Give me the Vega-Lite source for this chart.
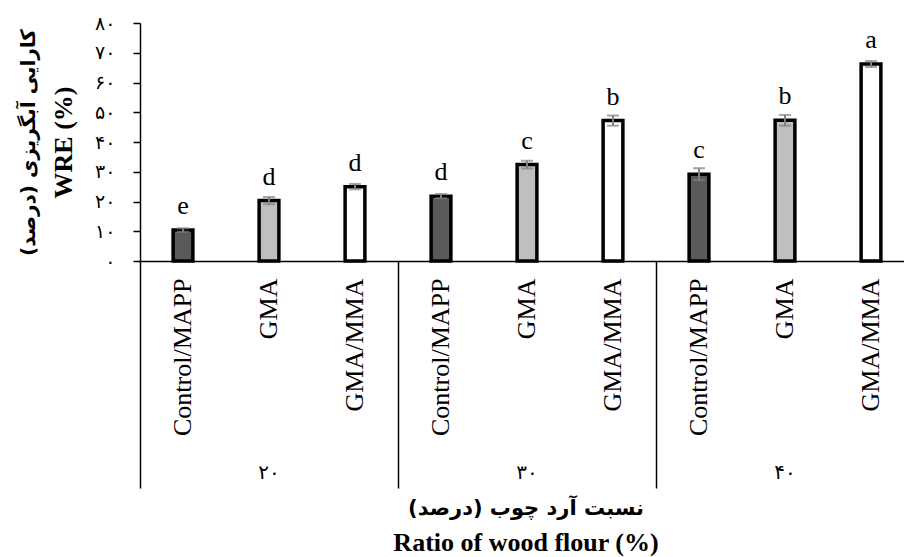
{
  "$schema": "https://vega.github.io/schema/vega-lite/v6.json",
  "width": 764,
  "height": 238,
  "autosize": {"type": "none"},
  "padding": {"left": 140, "top": 23, "right": 0, "bottom": 296},
  "background": "white",
  "config": {"view": {"stroke": null}},
  "title": {
    "text": "نسبت آرد چوب (درصد)",
    "subtitle": "Ratio of wood flour (%)",
    "orient": "bottom",
    "anchor": "middle",
    "frame": "group",
    "dx": 4,
    "offset": 9,
    "font": "DejaVu Sans",
    "fontWeight": "bold",
    "fontSize": 21,
    "color": "black",
    "subtitleFont": "Liberation Serif",
    "subtitleFontWeight": "bold",
    "subtitleFontSize": 26,
    "subtitleColor": "black",
    "subtitlePadding": 11
  },
  "data": {
    "values": [
      {"cat": "20|Control/MAPP", "group": "20", "treatment": "Control/MAPP", "value": 10.4, "err": 0.6, "letter": "e"},
      {"cat": "20|GMA", "group": "20", "treatment": "GMA", "value": 20.3, "err": 1.2, "letter": "d"},
      {"cat": "20|GMA/MMA", "group": "20", "treatment": "GMA/MMA", "value": 25.0, "err": 0.9, "letter": "d"},
      {"cat": "30|Control/MAPP", "group": "30", "treatment": "Control/MAPP", "value": 21.8, "err": 0.7, "letter": "d"},
      {"cat": "30|GMA", "group": "30", "treatment": "GMA", "value": 32.4, "err": 1.3, "letter": "c"},
      {"cat": "30|GMA/MMA", "group": "30", "treatment": "GMA/MMA", "value": 47.2, "err": 1.7, "letter": "b"},
      {"cat": "40|Control/MAPP", "group": "40", "treatment": "Control/MAPP", "value": 29.2, "err": 2.0, "letter": "c"},
      {"cat": "40|GMA", "group": "40", "treatment": "GMA", "value": 47.3, "err": 1.8, "letter": "b"},
      {"cat": "40|GMA/MMA", "group": "40", "treatment": "GMA/MMA", "value": 66.2, "err": 1.0, "letter": "a"}
    ]
  },
  "resolve": {"axis": {"x": "independent", "y": "independent"}},
  "layer": [
    {
      "mark": {"type": "bar", "width": {"band": 0.23}, "stroke": "black", "strokeWidth": 3.5},
      "encoding": {
        "x": {
          "field": "cat", "type": "nominal", "sort": null,
          "scale": {"type": "band", "range": [0, 774], "paddingInner": 0, "paddingOuter": 0},
          "axis": {
            "orient": "bottom",
            "title": null,
            "labelExpr": "split(datum.value,'|')[1]",
            "labelAngle": -90,
            "labelAlign": "right",
            "labelBaseline": "middle",
            "labelFont": "Liberation Serif",
            "labelFontSize": 26,
            "labelColor": "black",
            "labelPadding": 17,
            "labelOverlap": false,
            "labelBound": false,
            "labelFlush": false,
            "ticks": false,
            "tickSize": 0,
            "domain": true,
            "domainColor": "black",
            "domainWidth": 1.5
          }
        },
        "y": {
          "field": "value", "type": "quantitative",
          "scale": {"domain": [0, 80], "nice": false},
          "axis": {
            "orient": "left",
            "values": [0, 10, 20, 30, 40, 50, 60, 70, 80],
            "labelExpr": "['۰','۱۰','۲۰','۳۰','۴۰','۵۰','۶۰','۷۰','۸۰'][round(datum.value/10)]",
            "labelFont": "DejaVu Sans",
            "labelFontSize": 19,
            "labelColor": "black",
            "labelPadding": 18,
            "tickSize": 7,
            "tickColor": "black",
            "tickWidth": 1.5,
            "domainColor": "black",
            "domainWidth": 1.5,
            "grid": false,
            "title": "WRE (%)",
            "titleFont": "Liberation Serif",
            "titleFontWeight": "bold",
            "titleFontSize": 26,
            "titleColor": "black",
            "titlePadding": 18
          }
        },
        "fill": {
          "field": "treatment", "type": "nominal",
          "scale": {"domain": ["Control/MAPP", "GMA", "GMA/MMA"], "range": ["#595959", "#bfbfbf", "#ffffff"]},
          "legend": null
        }
      }
    },
    {
      "mark": {
        "type": "errorbar",
        "color": "#7f7f7f",
        "rule": {"strokeWidth": 2, "color": "#7f7f7f"},
        "ticks": {"size": 12, "thickness": 2, "color": "#7f7f7f"}
      },
      "encoding": {
        "x": {"field": "cat", "type": "nominal", "sort": null, "axis": null},
        "y": {"field": "value", "type": "quantitative", "axis": null},
        "yError": {"field": "err"}
      }
    },
    {
      "mark": {"type": "text", "font": "Liberation Serif", "fontSize": 26, "color": "black", "baseline": "alphabetic", "dy": -16},
      "encoding": {
        "x": {
          "field": "cat", "type": "nominal", "sort": null,
          "axis": {
            "orient": "bottom",
            "title": null,
            "values": ["20|Control/MAPP", "30|Control/MAPP", "40|Control/MAPP"],
            "bandPosition": 0,
            "ticks": true,
            "tickSize": 227,
            "tickColor": "black",
            "tickWidth": 1.5,
            "domain": false,
            "labelExpr": "split(datum.value,'|')[0]=='20' ? '۲۰' : (split(datum.value,'|')[0]=='30' ? '۳۰' : '۴۰')",
            "labelAngle": 0,
            "labelAlign": "center",
            "labelBaseline": "middle",
            "labelOffset": 86,
            "labelPadding": -16,
            "labelFont": "DejaVu Sans",
            "labelFontSize": 20,
            "labelColor": "black",
            "labelOverlap": false,
            "labelBound": false,
            "labelFlush": false
          }
        },
        "y": {
          "field": "value", "type": "quantitative",
          "axis": {
            "orient": "left",
            "domain": false,
            "ticks": false,
            "labels": false,
            "grid": false,
            "title": "کارایی آبگریزی (درصد)",
            "titleFont": "DejaVu Sans",
            "titleFontWeight": "bold",
            "titleFontSize": 20,
            "titleColor": "black",
            "titlePadding": 102
          }
        },
        "text": {"field": "letter"}
      }
    }
  ]
}
